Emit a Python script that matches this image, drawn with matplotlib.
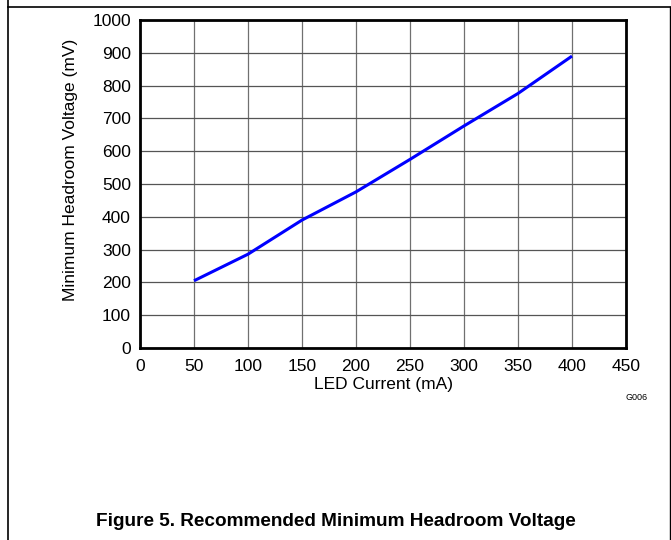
import matplotlib
matplotlib.use("Agg")
import matplotlib.pyplot as plt
from matplotlib.lines import Line2D

led_current = [50, 100, 150, 200, 250, 300, 350, 400]
headroom_mv = [205, 286, 390, 476, 575, 677, 776, 890]
x_ticks = [0, 50, 100, 150, 200, 250, 300, 350, 400, 450]
y_ticks = [0, 100, 200, 300, 400, 500, 600, 700, 800, 900, 1000]

plt.rcParams['font.family'] = ['Liberation Sans', 'DejaVu Sans']

W, H = 671, 540
fig = plt.figure(figsize=(W / 100, H / 100), dpi=100)
ax = fig.add_axes([140 / W, 1 - 348 / H, (626 - 140) / W, (348 - 20) / H])

ax.plot(led_current, headroom_mv, color='#0000ff', lw=2.2, solid_capstyle='butt')
ax.set_xlim(0, 450)
ax.set_ylim(0, 1000)
ax.set_xticks(x_ticks)
ax.set_yticks(y_ticks)
ax.tick_params(axis='both', length=0, labelsize=12.5)
ax.tick_params(axis='x', pad=8)
ax.tick_params(axis='y', pad=6.5)
ax.grid(True, color='#555555', lw=0.9)
ax.xaxis.grid(True, color='#707070')
ax.set_axisbelow(True)
for s in ax.spines.values():
    s.set_linewidth(2)
    s.set_color('black')
ax.set_xlabel('LED Current (mA)', fontsize=12.5, labelpad=2)
ax.set_ylabel('Minimum Headroom Voltage (mV)', fontsize=12.5)
ax.yaxis.set_label_coords((78 - 140) / (626 - 140), (348 - 170) / 328)

fig.text(637 / W, 1 - 398 / H, 'G006', fontsize=6.5, ha='center', va='center')
fig.text(0.5, 1 - 522 / H, 'Figure 5. Recommended Minimum Headroom Voltage',
         fontsize=13.7, fontweight='bold', ha='center', va='center')

# outer frame lines
fig.add_artist(Line2D([8 / W, 8 / W], [0, 1], transform=fig.transFigure, color='black', lw=1.2))
fig.add_artist(Line2D([8 / W, 1], [1 - 7 / H, 1 - 7 / H], transform=fig.transFigure, color='black', lw=1.2))
fig.add_artist(Line2D([669.5 / W, 669.5 / W], [0, 1 - 7 / H], transform=fig.transFigure, color='black', lw=1.0))

fig.savefig('out.png', dpi=100)
